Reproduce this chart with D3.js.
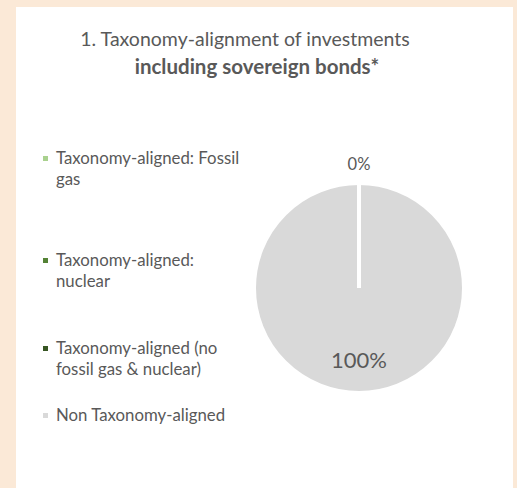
<!DOCTYPE html>
<html>
<head>
<meta charset="utf-8">
<script src="https://cdn.jsdelivr.net/npm/d3@7"></script>
<style>
  body { margin: 0; background: #fbe9d7; }
  text { font-family: Lato, sans-serif; fill: #595959; }
</style>
</head>
<body>
<div id="chart"></div>
<script>
// data
var categories = ["Taxonomy-aligned: Fossil gas", "Taxonomy-aligned: nuclear",
                  "Taxonomy-aligned (no fossil gas & nuclear)", "Non Taxonomy-aligned"];
var values = [0, 0, 0, 100];
var colors = ["#a9d18e", "#548235", "#375623", "#d9d9d9"];
var legendLines = [["Taxonomy-aligned: Fossil", "gas"], ["Taxonomy-aligned:", "nuclear"],
                   ["Taxonomy-aligned (no", "fossil gas & nuclear)"], ["Non Taxonomy-aligned"]];

var width = 517, height = 488;

var svg = d3.select("#chart")
  .append("svg")
    .attr("width", width)
    .attr("height", height);

// white panel
svg.append("rect")
  .attr("x", 16).attr("y", 7)
  .attr("width", 497).attr("height", height - 7)
  .style("fill", "white");

// title
svg.append("text")
  .attr("x", 245).attr("y", 46)
  .attr("text-anchor", "middle")
  .attr("font-size", "19.5px")
  .text("1. Taxonomy-alignment of investments");
svg.append("text")
  .attr("x", 257).attr("y", 74)
  .attr("text-anchor", "middle")
  .attr("font-size", "20.5px")
  .attr("font-weight", "bold")
  .text("including sovereign bonds*");

// pie
var cx = 359, cy = 288, r = 104;
var pie = d3.pie().sort(null).value(function(d) { return d; });
var arc = d3.arc().innerRadius(0).outerRadius(r);
var arcs = pie(values);

var g = svg.append("g").attr("transform", "translate(" + cx + "," + cy + ")");
g.selectAll("path")
  .data(arcs)
  .enter()
  .append("path")
    .attr("d", arc)
    .style("fill", function(d, i) { return colors[i]; })
    .style("stroke", "white")
    .style("stroke-width", 2);

// slice borders (white radial lines at each slice start)
g.selectAll("line.sep")
  .data(arcs)
  .enter()
  .append("line")
    .attr("class", "sep")
    .attr("x1", 0).attr("y1", 0)
    .attr("x2", function(d) { return (r + 2) * Math.sin(d.startAngle); })
    .attr("y2", function(d) { return -(r + 2) * Math.cos(d.startAngle); })
    .style("stroke", "white")
    .style("stroke-width", 4);

// data labels: 0% outside at top, 100% inside
var outerArc = d3.arc().innerRadius(r + 20).outerRadius(r + 20);
g.append("text")
  .attr("x", outerArc.centroid(arcs[0])[0])
  .attr("y", outerArc.centroid(arcs[0])[1] + 6)
  .attr("text-anchor", "middle")
  .attr("font-size", "16.5px")
  .text(d3.format(".0f")(values[0]) + "%");

g.append("text")
  .attr("x", 0)
  .attr("y", 80)
  .attr("text-anchor", "middle")
  .attr("font-size", "22px")
  .text(d3.format(".0f")(values[3]) + "%");

// legend
var legendY = [164, 266, 354, 421];
var legend = svg.selectAll(".legend")
  .data(categories)
  .enter()
  .append("g")
    .attr("class", "legend")
    .attr("transform", function(d, i) { return "translate(43," + legendY[i] + ")"; });

legend.append("rect")
  .attr("x", 0).attr("y", -8)
  .attr("width", 5).attr("height", 5)
  .style("fill", function(d, i) { return colors[i]; });

legend.append("text")
  .attr("font-size", "16.8px")
  .each(function(d, i) {
    d3.select(this).selectAll("tspan")
      .data(legendLines[i])
      .enter()
      .append("tspan")
        .attr("x", 13)
        .attr("dy", function(t, j) { return j === 0 ? 0 : 21; })
        .text(function(t) { return t; });
  });
</script>
</body>
</html>
